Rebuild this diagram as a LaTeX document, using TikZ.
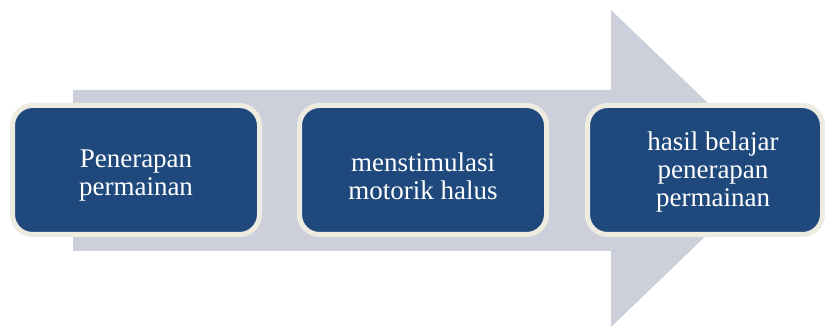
\documentclass[tikz,border=0pt]{standalone}
\usepackage{fontspec}
\setmainfont{Liberation Serif}
\newfontfamily\tnr{Liberation Serif}
\definecolor{arrowgray}{HTML}{CDD0DA}
\definecolor{boxblue}{HTML}{1F497D}
\definecolor{boxrim}{HTML}{EEECE1}
\begin{document}
\begin{tikzpicture}[x=1pt,y=-1pt,
  stepbox/.style={draw=boxrim, line width=5pt, fill=boxblue, rounded corners=20pt},
  steptext/.style={text=white, align=center, font=\tnr\fontsize{27}{28}\selectfont, inner sep=0pt}]
\useasboundingbox (0,0) rectangle (825,328);
% big arrow
\fill[arrowgray] (73,90) -- (611,90) -- (611,10) -- (776,168.5) -- (611,327) -- (611,251) -- (73,251) -- cycle;
% boxes
\draw[stepbox] (12.5,105.5) rectangle (259.5,234.5);
\draw[stepbox] (299.5,105.5) rectangle (546.5,234.5);
\draw[stepbox] (587.5,105.5) rectangle (822.5,234.5);
\node[steptext] (t1) at (136,176) {Penerapan\\permainan};
\node[steptext] (t2) at (423,176) {menstimulasi\\motorik halus};
\node[steptext] (t3) at (713,172) {hasil belajar\\penerapan\\permainan};
\end{tikzpicture}
\end{document}
